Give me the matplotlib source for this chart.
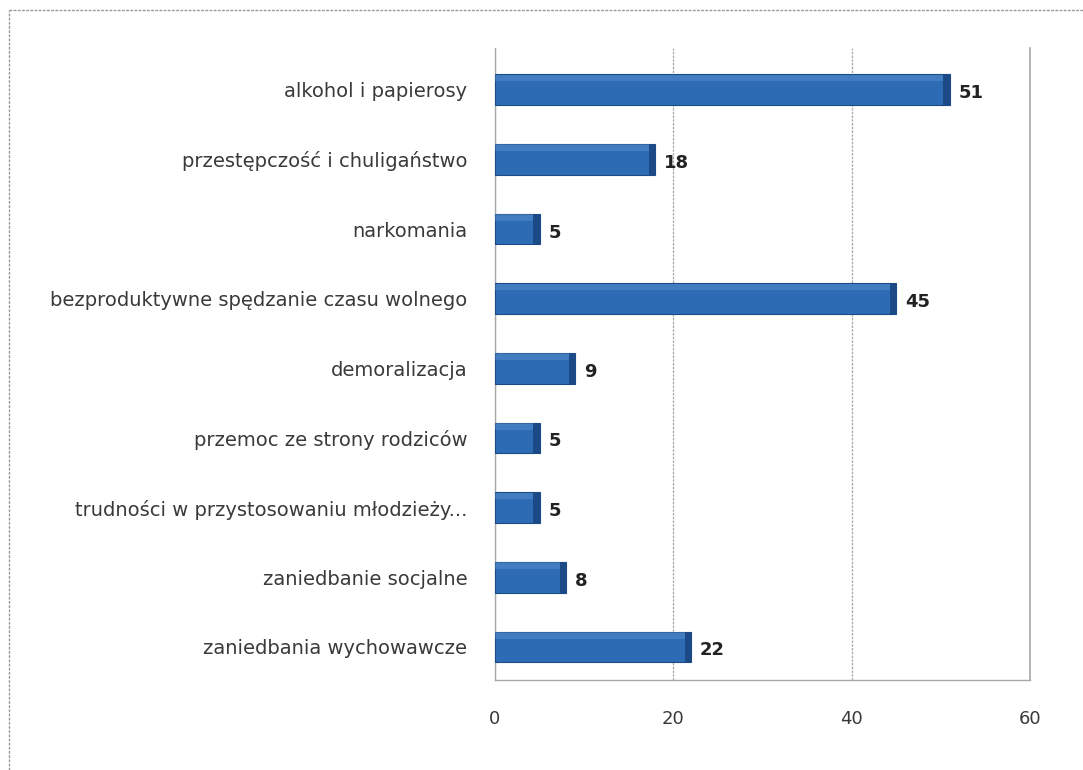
import matplotlib
matplotlib.use("Agg")
import matplotlib.pyplot as plt
from matplotlib.lines import Line2D

categories = [
    "alkohol i papierosy",
    "przestępczość i chuligaństwo",
    "narkomania",
    "bezproduktywne spędzanie czasu wolnego",
    "demoralizacja",
    "przemoc ze strony rodziców",
    "trudności w przystosowaniu młodzieży...",
    "zaniedbanie socjalne",
    "zaniedbania wychowawcze",
]
values = [51, 18, 5, 45, 9, 5, 5, 8, 22]
xticks = [0, 20, 40, 60]

BAR   = "#2d6cb5"
DARK  = "#1c4a86"
LIGHT = "#6a9fd8"
GRID  = "#a8a8a8"
TEXT  = "#3a3a3a"

fig = plt.figure(figsize=(10.83, 7.70), dpi=100)
fig.patch.set_facecolor("white")
ax = fig.add_axes([0.457, 0.117, 0.494, 0.821])

n = len(categories)
ypos = list(range(n))[::-1]
h = 0.44

ax.barh(ypos, values, height=h, color=BAR, edgecolor=DARK, linewidth=0.8, zorder=3)
# pseudo 3D: top highlight and darker end cap
ax.barh([y + h * 0.38 for y in ypos], values, height=h * 0.22, color=LIGHT,
        alpha=0.35, linewidth=0, zorder=4)
ax.barh(ypos, [0.7] * n, left=[v - 0.7 for v in values], height=h,
        color=DARK, linewidth=0, zorder=4)

for y, v in zip(ypos, values):
    ax.text(v + 1.0, y - 0.05, str(v), va="center", ha="left",
            fontsize=13, fontweight="bold", color="#222222", zorder=5)

ax.set_xlim(0, 60)
ax.set_ylim(-0.474, 8.603)
ax.set_xticks(xticks)
ax.set_yticks(ypos)
ax.set_yticklabels(categories)
ax.tick_params(axis="y", length=0, pad=20, labelsize=14, labelcolor=TEXT)
ax.tick_params(axis="x", length=0, pad=22, labelsize=13, labelcolor=TEXT)

ax.set_axisbelow(True)
ax.grid(True, axis="x", color=GRID, linewidth=0.9, linestyle=(0, (2, 1)))
ax.axvline(60, color=GRID, linewidth=1.2, clip_on=False, zorder=1)
for name, sp in ax.spines.items():
    if name in ("left", "bottom"):
        sp.set_color(GRID)
        sp.set_linewidth(1.0)
        sp.set_linestyle((0, (2, 1)))
    else:
        sp.set_visible(False)

# outer frame of the chart (top and left edges visible)
frame_kw = dict(transform=fig.transFigure, color="#999999", linewidth=1.0,
                linestyle=(0, (2, 1)))
fig.lines.append(Line2D([0.008, 1.0], [0.987, 0.987], **frame_kw))
fig.lines.append(Line2D([0.008, 0.008], [0.0, 0.987], **frame_kw))

fig.savefig("out.png", dpi=100, facecolor="white")
